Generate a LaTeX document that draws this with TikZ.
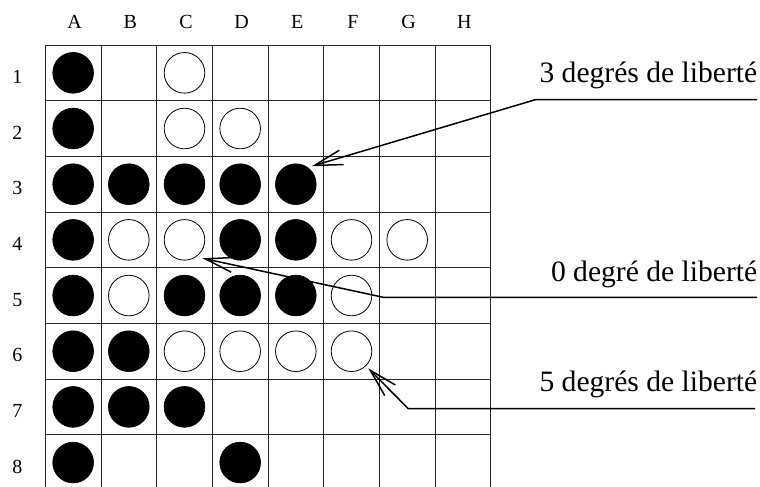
\documentclass[tikz,border=0pt]{standalone}
\usepackage{fontspec}
\setmainfont{Liberation Serif}
\usetikzlibrary{arrows.meta}
\begin{document}
\begin{tikzpicture}[x=1pt,y=-1pt,
  gridline/.style={line width=0.9pt, black!85},
  blackstone/.style={circle, fill=black, draw=black, line width=0.6pt,
    minimum size=40.8pt, inner sep=0pt},
  whitestone/.style={circle, fill=white, draw=black, line width=0.8pt,
    minimum size=40.6pt, inner sep=0pt},
  axislabel/.style={font=\fontsize{20}{24}\selectfont, anchor=base, inner sep=0pt},
  caption/.style={font=\fontsize{29.6}{35}\selectfont, anchor=base east, inner sep=0pt},
  pointer/.style={line width=1.5pt, -{Straight Barb[length=28pt,width=15pt]}}]

\useasboundingbox (0,0) rectangle (760,487);
\clip (0,0) rectangle (760,487);

% board: 8x8 cells, origin (45.3,45), cell size 55.675
\foreach \i in {0,...,8} {
  \draw[gridline] ({45.3+\i*55.675},45) -- ({45.3+\i*55.675},490.4);
  \draw[gridline] (45.3,{45+\i*55.675}) -- (490.7,{45+\i*55.675});
}

% column and row headings
\foreach \c [count=\i] in {A,B,C,D,E,F,G,H}
  \node[axislabel] (col\c) at ({45.3+(\i-0.5)*55.675+1.5},28.3) {\c};
\foreach \r in {1,...,8}
  \node[axislabel] (row\r) at (17.5,{45+(\r-0.5)*55.675+10.5}) {\r};

% black stones
\foreach \n/\c/\r in {A/1/1, A/1/2,
    A/1/3, B/2/3, C/3/3, D/4/3, E/5/3,
    A/1/4, D/4/4, E/5/4,
    A/1/5, C/3/5, D/4/5, E/5/5,
    A/1/6, B/2/6,
    A/1/7, B/2/7, C/3/7,
    A/1/8, D/4/8}
  \node[blackstone] (\n\r) at ({45.3+(\c-0.5)*55.675},{45+(\r-0.5)*55.675}) {};

% white stones
\foreach \n/\c/\r in {C/3/1,
    C/3/2, D/4/2,
    B/2/4, C/3/4, F/6/4, G/7/4,
    B/2/5, F/6/5,
    C/3/6, D/4/6, E/5/6, F/6/6}
  \node[whitestone] (\n\r) at ({45.3+(\c-0.5)*55.675},{45+(\r-0.5)*55.675}) {};

% captions
\node[caption] (lab3) at (757.5,82.7) {3 degrés de liberté};
\node[caption] (lab0) at (757.5,281.7) {0 degré de liberté};
\node[caption] (lab5) at (757.5,391.7) {5 degrés de liberté};

% leader lines: underline end, elbow, arrow tip near the stone
\coordinate (end3) at (757,99.5);
\coordinate (bend3) at (536,99.5);
\coordinate (tip3) at ([shift={(16,-18)}]E3.center);

\coordinate (end0) at (757,297.3);
\coordinate (bend0) at (383.3,297.3);
\coordinate (tip0) at ([shift={(18,18.4)}]C4.center);

\coordinate (end5) at (755,408.7);
\coordinate (bend5) at (408.3,408.7);
\coordinate (tip5) at ([shift={(16.8,17.1)}]F6.center);

\draw[pointer] (end3) -- (bend3) -- (tip3);
\draw[pointer] (end0) -- (bend0) -- (tip0);
\draw[pointer] (end5) -- (bend5) -- (tip5);
\end{tikzpicture}
\end{document}
